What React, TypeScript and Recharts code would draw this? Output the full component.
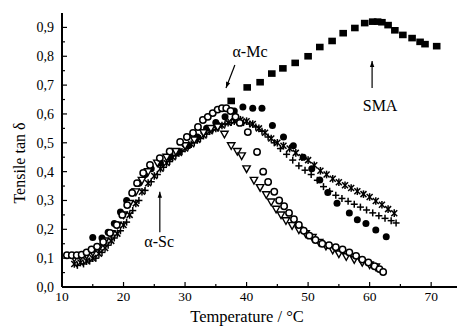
import React from 'react';
import { ScatterChart, Scatter, XAxis, YAxis, ReferenceLine, ReferenceDot } from 'recharts';

// ---- Data (temperature °C, tensile tan δ) ----
const smaPoints: [number, number][] = [
  [37.5, 0.645], [40.1, 0.692], [42.2, 0.71], [44.1, 0.74], [45.9, 0.758], [47.9, 0.777],
  [50.0, 0.80], [51.9, 0.832], [53.9, 0.853], [55.7, 0.88], [57.6, 0.898], [59.2, 0.915],
  [60.5, 0.92], [61.3, 0.92], [62.0, 0.918], [63.0, 0.908], [64.1, 0.89], [65.4, 0.874],
  [66.9, 0.863], [68.2, 0.85], [69.0, 0.842], [70.9, 0.835],
];

const filledCirclePoints: [number, number][] = [
  [15.0, 0.172], [16.5, 0.17], [17.5, 0.19], [18.5, 0.22], [19.5, 0.26], [20.5, 0.3],
  [21.5, 0.33], [22.5, 0.36], [23.5, 0.39], [24.5, 0.41], [26.0, 0.43], [27.5, 0.45],
  [29.0, 0.47], [30.5, 0.49], [32.0, 0.52], [33.5, 0.55], [35.0, 0.57], [36.5, 0.59],
  [38.0, 0.61], [39.4, 0.624], [41.0, 0.62], [42.5, 0.62], [44.2, 0.56], [46.0, 0.52],
  [47.6, 0.49], [49.2, 0.45], [50.6, 0.41], [51.9, 0.371], [53.2, 0.328], [54.7, 0.29],
  [56.7, 0.257], [58.0, 0.233], [59.4, 0.22], [61.0, 0.198], [62.7, 0.174],
];

const openCirclePoints: [number, number][] = [
  [10.8, 0.11], [11.6, 0.11], [12.4, 0.11], [13.2, 0.112], [14.0, 0.12], [14.8, 0.13],
  [15.7, 0.14], [16.7, 0.156], [17.8, 0.187], [18.9, 0.215], [19.8, 0.25], [20.6, 0.284],
  [21.4, 0.326], [22.2, 0.36], [23.2, 0.395], [24.3, 0.423], [25.9, 0.447], [27.5, 0.47],
  [29.2, 0.503], [30.3, 0.52], [31.3, 0.534], [32.1, 0.555], [32.9, 0.579], [33.7, 0.59],
  [34.5, 0.603], [35.3, 0.615], [36.0, 0.62], [36.7, 0.62], [37.4, 0.61], [38.2, 0.59],
  [38.9, 0.569], [40.2, 0.537], [41.7, 0.468], [42.7, 0.4], [43.5, 0.364], [44.5, 0.33],
  [45.3, 0.3], [46.1, 0.28], [46.9, 0.257], [47.7, 0.235], [48.5, 0.215], [49.3, 0.195],
  [50.2, 0.178], [51.2, 0.163], [52.3, 0.15], [53.4, 0.145], [54.5, 0.138], [55.6, 0.13],
  [56.7, 0.12], [57.8, 0.108], [58.8, 0.095], [59.8, 0.085], [60.8, 0.072], [61.6, 0.062],
  [62.2, 0.052],
];

const triangleDownPoints: [number, number][] = [
  [12.0, 0.1], [13.0, 0.105], [14.0, 0.11], [15.0, 0.12], [16.0, 0.135], [17.0, 0.16],
  [18.0, 0.185], [19.0, 0.215], [20.0, 0.25], [21.0, 0.29], [22.0, 0.33], [23.0, 0.37],
  [24.0, 0.4], [25.5, 0.43], [27.0, 0.45], [28.5, 0.47], [30.0, 0.49], [31.5, 0.51],
  [33.0, 0.535], [34.2, 0.55], [35.3, 0.555], [36.4, 0.53], [37.5, 0.49], [38.5, 0.47],
  [39.2, 0.455], [40.0, 0.41], [41.2, 0.37], [42.2, 0.345], [43.2, 0.32], [44.0, 0.295],
  [44.8, 0.27], [45.6, 0.25], [46.4, 0.23], [47.4, 0.213], [48.5, 0.198], [49.6, 0.185],
  [50.7, 0.172], [51.8, 0.155], [52.9, 0.142], [54.0, 0.128], [55.0, 0.115], [56.2, 0.105],
  [57.5, 0.095], [58.8, 0.085], [60.0, 0.077], [61.0, 0.07],
];

const asteriskPoints: [number, number][] = [
  [12.0, 0.08], [13.0, 0.085], [14.0, 0.09], [15.0, 0.1], [16.0, 0.115], [17.0, 0.135],
  [18.0, 0.16], [19.0, 0.185], [20.0, 0.215], [21.0, 0.25], [22.0, 0.29], [23.0, 0.33],
  [24.0, 0.36], [25.0, 0.385], [26.0, 0.41], [27.0, 0.43], [28.0, 0.45], [29.0, 0.465],
  [30.0, 0.48], [31.0, 0.495], [32.0, 0.51], [33.0, 0.525], [34.0, 0.54], [35.0, 0.55],
  [36.0, 0.56], [37.0, 0.57], [38.0, 0.575], [39.0, 0.58], [40.0, 0.575], [41.0, 0.565],
  [42.0, 0.55], [43.0, 0.535], [44.0, 0.515], [45.0, 0.5], [46.0, 0.49], [47.0, 0.48],
  [48.0, 0.465], [49.0, 0.45], [50.0, 0.44], [51.0, 0.422], [52.0, 0.403], [53.0, 0.39],
  [54.0, 0.375], [55.0, 0.363], [56.0, 0.353], [57.0, 0.343], [58.0, 0.332], [59.0, 0.322],
  [60.0, 0.312], [61.0, 0.298], [62.0, 0.285], [63.0, 0.27], [64.0, 0.256],
];

const plusPoints: [number, number][] = [
  [12.5, 0.075], [13.5, 0.08], [14.5, 0.09], [15.5, 0.1], [16.5, 0.12], [17.5, 0.145],
  [18.5, 0.17], [19.5, 0.195], [20.5, 0.225], [21.5, 0.265], [22.5, 0.3], [23.5, 0.335],
  [24.5, 0.365], [25.5, 0.39], [26.5, 0.415], [27.5, 0.435], [28.5, 0.455], [29.5, 0.47],
  [30.5, 0.485], [31.5, 0.5], [32.5, 0.515], [33.5, 0.53], [34.5, 0.545], [35.5, 0.555],
  [36.5, 0.565], [37.5, 0.57], [38.5, 0.575], [39.5, 0.57], [40.5, 0.565], [41.5, 0.555],
  [42.5, 0.54], [43.5, 0.52], [44.5, 0.5], [45.5, 0.48], [46.5, 0.46], [47.5, 0.44],
  [48.5, 0.42], [49.5, 0.405], [50.5, 0.39], [51.5, 0.37], [52.5, 0.348], [53.5, 0.332],
  [54.5, 0.318], [55.5, 0.307], [56.5, 0.297], [57.5, 0.287], [58.5, 0.277], [59.5, 0.267],
  [60.5, 0.257], [61.5, 0.247], [62.5, 0.238], [63.5, 0.23], [64.3, 0.222],
];

// ---- Axis ticks ----
const xMajorTicks = [10, 20, 30, 40, 50, 60, 70];
const xTickLabels = ['10', '20', '30', '40', '50', '60', '70'];
const xMinorTicks = [15, 25, 35, 45, 55, 65];
const yMajorTicks = [0, 0.1, 0.2, 0.3, 0.4, 0.5, 0.6, 0.7, 0.8, 0.9];
const yTickLabels = ['0,0', '0,1', '0,2', '0,3', '0,4', '0,5', '0,6', '0,7', '0,8', '0,9'];
const yMinorTicks = [0.05, 0.15, 0.25, 0.35, 0.45, 0.55, 0.65, 0.75, 0.85];

// ---- Annotations (data coordinates) ----
const annotationTexts = [
  { x: 40.55, y: 0.815, text: 'α-Mc' },
  { x: 61.7, y: 0.63, text: 'SMA' },
  { x: 25.8, y: 0.158, text: 'α-Sc' },
];
const arrows = [
  { from: { x: 38.1, y: 0.77 }, to: { x: 36.65, y: 0.69 } },
  { from: { x: 60.4, y: 0.69 }, to: { x: 60.4, y: 0.784 } },
  { from: { x: 25.9, y: 0.19 }, to: { x: 25.9, y: 0.33 } },
];

const toXY = (pts: [number, number][]) => pts.map(([x, y]) => ({ x, y }));

const FONT = '"Liberation Serif", "DejaVu Serif", serif';

const allXTicks = [...xMajorTicks, ...xMinorTicks].sort((a, b) => a - b);
const allYTicks = [...yMajorTicks, ...yMinorTicks].sort((a, b) => a - b);

const XTick = (props: any) => {
  const { x, y, payload } = props;
  const idx = xMajorTicks.indexOf(payload.value);
  const major = idx >= 0;
  return (
    <g>
      <line x1={x} x2={x} y1={y} y2={y - (major ? 5 : 3)} stroke="#000" strokeWidth={1.2} />
      {major && (
        <text x={x} y={y + 14} textAnchor="middle" fontFamily={FONT} fontSize={13.5} fill="#000">
          {xTickLabels[idx]}
        </text>
      )}
    </g>
  );
};

const YTick = (props: any) => {
  const { x, y, payload } = props;
  const idx = yMajorTicks.findIndex((v) => Math.abs(v - payload.value) < 1e-9);
  const major = idx >= 0;
  return (
    <g>
      <line x1={x} x2={x + (major ? 5 : 3)} y1={y} y2={y} stroke="#000" strokeWidth={1.2} />
      {major && (
        <text x={x - 8} y={y + 5} textAnchor="end" fontFamily={FONT} fontSize={14} fill="#000">
          {yTickLabels[idx]}
        </text>
      )}
    </g>
  );
};

const XLabel = () => (
  <text x={247} y={322} textAnchor="middle" fontFamily={FONT} fontSize={16.5} fill="#000">
    Temperature / °C
  </text>
);

const YLabel = () => (
  <text
    x={19}
    y={163}
    transform="rotate(-90 19 163)"
    textAnchor="middle"
    dominantBaseline="central"
    fontFamily={FONT}
    fontSize={16}
    fill="#000"
  >
    Tensile tan δ
  </text>
);

// ---- Marker shapes ----
const SquareShape = (p: any) => (
  <rect x={p.cx - 3.8} y={p.cy - 3.3} width={7.6} height={6.6} fill="#000" />
);
const FilledCircleShape = (p: any) => <circle cx={p.cx} cy={p.cy} r={3.5} fill="#000" />;
const OpenCircleShape = (p: any) => (
  <circle cx={p.cx} cy={p.cy} r={3.2} fill="#fff" stroke="#000" strokeWidth={1.5} />
);
const TriangleDownShape = (p: any) => (
  <path
    d={`M${p.cx - 3.7},${p.cy - 2.9}L${p.cx + 3.7},${p.cy - 2.9}L${p.cx},${p.cy + 3.7}Z`}
    fill="#fff"
    stroke="#000"
    strokeWidth={1.4}
  />
);
const AsteriskShape = (p: any) => (
  <g stroke="#000" strokeWidth={1.5}>
    <line x1={p.cx - 3} y1={p.cy - 3} x2={p.cx + 3} y2={p.cy + 3} />
    <line x1={p.cx - 3} y1={p.cy + 3} x2={p.cx + 3} y2={p.cy - 3} />
    <line x1={p.cx} y1={p.cy - 3.8} x2={p.cx} y2={p.cy + 3.8} />
  </g>
);
const PlusShape = (p: any) => (
  <g stroke="#000" strokeWidth={1.5}>
    <line x1={p.cx - 3.5} y1={p.cy} x2={p.cx + 3.5} y2={p.cy} />
    <line x1={p.cx} y1={p.cy - 3.5} x2={p.cx} y2={p.cy + 3.5} />
  </g>
);

const makeArrowHead = (dx: number, dy: number) => (p: any) => {
  const len = Math.hypot(dx, dy);
  const ux = dx / len;
  const uy = dy / len;
  const size = 6;
  const w = 2.2;
  const bx = p.cx - ux * size;
  const by = p.cy - uy * size;
  return (
    <path
      d={`M${p.cx},${p.cy}L${bx - uy * w},${by + ux * w}L${bx + uy * w},${by - ux * w}Z`}
      fill="#000"
    />
  );
};

const TextShape = (text: string) => (p: any) => (
  <text
    x={p.cx}
    y={p.cy}
    textAnchor="middle"
    dominantBaseline="central"
    fontFamily={FONT}
    fontSize={16}
    fill="#000"
  >
    {text}
  </text>
);

export default function App() {
  return (
    <div style={{ position: 'absolute', left: 0, top: 0, width: 457, height: 327, background: '#fff' }}>
      <ScatterChart width={457} height={327} margin={{ top: 13, right: 0, bottom: 0, left: 0 }}>
        <XAxis
          type="number"
          dataKey="x"
          domain={[10, 74.2]}
          ticks={allXTicks}
          interval={0}
          tick={<XTick />}
          tickLine={false}
          tickSize={0}
          tickMargin={0}
          height={40}
          axisLine={{ stroke: '#000', strokeWidth: 2 }}
          allowDataOverflow
          label={<XLabel />}
        />
        <YAxis
          type="number"
          dataKey="y"
          domain={[0, 0.95]}
          ticks={allYTicks}
          interval={0}
          tick={<YTick />}
          tickLine={false}
          tickSize={0}
          tickMargin={0}
          width={62}
          axisLine={{ stroke: '#000', strokeWidth: 2 }}
          allowDataOverflow
          label={<YLabel />}
        />
        <Scatter data={toXY(plusPoints)} shape={PlusShape} isAnimationActive={false} />
        <Scatter data={toXY(asteriskPoints)} shape={AsteriskShape} isAnimationActive={false} />
        <Scatter data={toXY(filledCirclePoints)} shape={FilledCircleShape} isAnimationActive={false} />
        <Scatter data={toXY(triangleDownPoints)} shape={TriangleDownShape} isAnimationActive={false} />
        <Scatter data={toXY(openCirclePoints)} shape={OpenCircleShape} isAnimationActive={false} />
        <Scatter data={toXY(smaPoints)} shape={SquareShape} isAnimationActive={false} />
        {arrows.map((a, i) => (
          <ReferenceLine
            key={`al${i}`}
            segment={[a.from, a.to]}
            stroke="#000"
            strokeWidth={1.2}
          />
        ))}
        {arrows.map((a, i) => (
          <ReferenceDot
            key={`ah${i}`}
            x={a.to.x}
            y={a.to.y}
            r={3}
            shape={makeArrowHead(a.to.x - a.from.x, -(a.to.y - a.from.y) * (274 / 0.95) / (395 / 64.2))}
          />
        ))}
        {annotationTexts.map((t, i) => (
          <ReferenceDot key={`at${i}`} x={t.x} y={t.y} r={3} shape={TextShape(t.text)} />
        ))}
      </ScatterChart>
    </div>
  );
}
